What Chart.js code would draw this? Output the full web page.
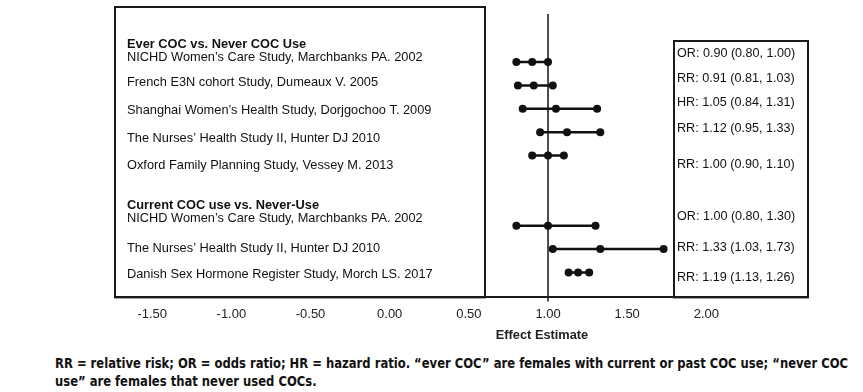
<!DOCTYPE html>
<html>
<head>
<meta charset="utf-8">
<script src="https://cdn.jsdelivr.net/npm/chart.js@4"></script>
<style>
  body { margin: 0; background: #fff; }
  #wrap { position: relative; width: 863px; height: 392px; }
  #forest { position: absolute; left: 0; top: 0; }
  .note {
    position: absolute; left: 55px; white-space: nowrap; transform-origin: 0 0;
    font-family: "DejaVu Sans Condensed", "Liberation Sans Narrow", sans-serif;
    font-weight: bold; font-size: 14px; line-height: 18px; color: #111;
  }
</style>
</head>
<body>
<div id="wrap">
  <canvas id="forest" width="863" height="345"></canvas>
  <div class="note" id="note1" style="top:354px">RR = relative risk; OR = odds ratio; HR = hazard ratio. “ever COC” are females with current or past COC use; “never COC</div>
  <div class="note" id="note2" style="top:372px">use” are females that never used COCs.</div>
</div>
<script>
// Study data
const groups = ["Ever COC vs. Never COC Use", "Current COC use vs. Never-Use"];
const studies = [
  "NICHD Women’s Care Study, Marchbanks PA. 2002",
  "French E3N cohort Study, Dumeaux V. 2005",
  "Shanghai Women’s Health Study, Dorjgochoo T. 2009",
  "The Nurses’ Health Study II, Hunter DJ 2010",
  "Oxford Family Planning Study, Vessey M. 2013",
  "NICHD Women’s Care Study, Marchbanks PA. 2002",
  "The Nurses’ Health Study II, Hunter DJ 2010",
  "Danish Sex Hormone Register Study, Morch LS. 2017"
];
const measures = ["OR", "RR", "HR", "RR", "RR", "OR", "RR", "RR"];
const estimates = [0.90, 0.91, 1.05, 1.12, 1.00, 1.00, 1.33, 1.19];
const lower = [0.80, 0.81, 0.84, 0.95, 0.90, 0.80, 1.03, 1.13];
const upper = [1.00, 1.03, 1.31, 1.33, 1.10, 1.30, 1.73, 1.26];
const rows = [0, 1, 2, 3, 4, 7, 8, 9];
const xTicks = [-1.5, -1.0, -0.5, 0.0, 0.5, 1.0, 1.5, 2.0];
const xTitle = "Effect Estimate";

// pixel layout of the text columns (hand placed in the original figure)
const labelY = [57, 82, 110, 138, 165, 218, 248, 274];
const groupY = [44, 205];
const estY = [54, 79, 103, 129, 165, 217, 248, 278];

const fmt = (v) => v.toFixed(2);

const datasets = studies.map((s, i) => ({
  label: s,
  data: [
    { x: lower[i], y: rows[i] },
    { x: estimates[i], y: rows[i] },
    { x: upper[i], y: rows[i] }
  ],
  showLine: true,
  borderColor: "#111",
  backgroundColor: "#111",
  borderWidth: 2.5,
  pointRadius: 4,
  pointBorderWidth: 0
}));

const sans = '"Liberation Sans", Arial, sans-serif';

const forestDecor = {
  id: "forestDecor",
  beforeDatasetsDraw(chart) {
    const { ctx, chartArea, scales } = chart;
    const x1 = scales.x.getPixelForValue(1);
    ctx.save();
    // reference line at 1.00
    ctx.strokeStyle = "#222";
    ctx.lineWidth = 1.6;
    ctx.beginPath();
    ctx.moveTo(x1, 14);
    ctx.lineTo(x1, chartArea.bottom + 4);
    ctx.stroke();
    ctx.restore();
  },
  afterDraw(chart) {
    const { ctx, chartArea } = chart;
    ctx.save();
    // study label box
    ctx.strokeStyle = "#1a1a1a";
    ctx.lineWidth = 2;
    const boxR = 485;
    ctx.strokeRect(chartArea.left, 7, boxR - chartArea.left, chartArea.bottom - 7);
    // estimate box
    const estL = 674;
    ctx.strokeRect(estL, 41, chartArea.right - estL, chartArea.bottom - 41);

    ctx.fillStyle = "#111";
    ctx.textBaseline = "middle";
    ctx.textAlign = "left";
    ctx.font = "bold 12.8px " + sans;
    groups.forEach((g, i) => ctx.fillText(g, 127, groupY[i]));
    ctx.font = "12.8px " + sans;
    studies.forEach((s, i) => ctx.fillText(s, 127, labelY[i]));
    ctx.font = "12.6px " + sans;
    studies.forEach((s, i) => {
      const t = measures[i] + ": " + fmt(estimates[i]) + " (" + fmt(lower[i]) + ", " + fmt(upper[i]) + ")";
      ctx.fillText(t, 677, estY[i]);
    });
    // axis title, centred near the 1.00 line as in the original
    ctx.font = "bold 12.8px " + sans;
    ctx.textAlign = "center";
    ctx.fillStyle = "#222";
    ctx.fillText(xTitle, 542, 335);
    ctx.restore();
  }
};

new Chart(document.getElementById("forest"), {
  type: "scatter",
  data: { datasets },
  plugins: [forestDecor],
  options: {
    responsive: false,
    animation: false,
    layout: { padding: { left: 115, right: 55, top: 6, bottom: 14 } },
    plugins: {
      legend: { display: false },
      tooltip: { enabled: false }
    },
    scales: {
      x: {
        type: "linear",
        min: -1.735,
        max: 2.642,
        afterBuildTicks: (scale) => {
          scale.ticks = xTicks.map((v) => ({ value: v }));
        },
        ticks: {
          padding: 9,
          color: "#222",
          font: { family: sans, size: 13 },
          callback: (v) => fmt(v)
        },
        grid: { display: false, drawTicks: false },
        border: { display: true, color: "#1a1a1a", width: 2 }
      },
      y: {
        type: "linear",
        display: false,
        reverse: true,
        min: -2.4,
        max: 10.07
      }
    }
  }
});

// squeeze the footnote lines to the width the first line takes in the original
const noteScale = 793 / document.getElementById("note1").scrollWidth;
["note1", "note2"].forEach((id) => {
  document.getElementById(id).style.transform = "scaleX(" + noteScale.toFixed(4) + ")";
});
</script>
</body>
</html>
